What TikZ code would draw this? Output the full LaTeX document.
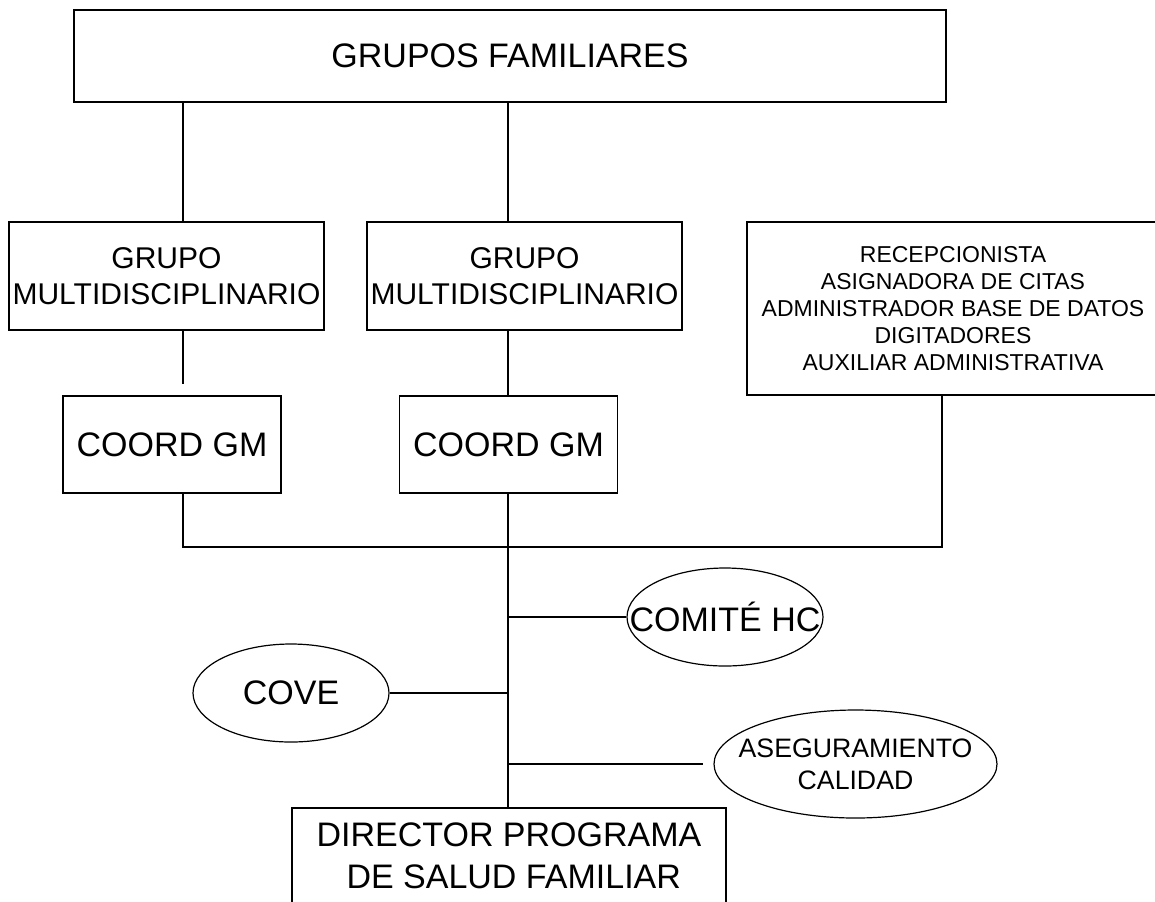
\documentclass[tikz,border=0pt]{standalone}
\usepackage{fontspec}
\setmainfont{Liberation Sans}
\usetikzlibrary{shapes.geometric,positioning,calc}

\newcommand{\fgrande}{\fontsize{25.5}{31.5}\selectfont}
\newcommand{\fmedio}{\fontsize{22.5}{27}\selectfont}
\newcommand{\fasegur}{\fontsize{20}{24}\selectfont}
\newcommand{\fpeque}{\fontsize{17.25}{20.25}\selectfont}

\begin{document}
\begin{tikzpicture}[x=0.75pt,y=-0.75pt,line width=0.9pt]
		\tikzstyle{caja}=[draw, rectangle, inner sep=0pt, align=center, font=\fgrande];
		\tikzstyle{elipse}=[draw, ellipse, inner sep=0pt];

		\clip (0,0) rectangle (1155,901);

		% cajas
		\node[caja, minimum width=654pt, minimum height=69pt] (gf) at (510,56) {GRUPOS FAMILIARES};
		\node[caja, font=\fmedio, minimum width=236.25pt, minimum height=81pt] (gm_1) at (166.5,276) {GRUPO\\MULTIDISCIPLINARIO};
		\node[caja, font=\fmedio, minimum width=236.25pt, minimum height=81pt] (gm_2) at (524.5,276) {GRUPO\\MULTIDISCIPLINARIO};
		\node[caja, minimum width=163.5pt, minimum height=72.75pt] (coord_1) at (172,444.5) {COORD GM};
		\node[caja, minimum width=163.5pt, minimum height=72.75pt] (coord_2) at (508.5,444.5) {COORD GM};
		\node[caja, font=\fpeque, minimum width=309pt, minimum height=129.75pt] (rec) at (953,308.5)
			{RECEPCIONISTA\\ASIGNADORA DE CITAS\\ADMINISTRADOR BASE DE DATOS\\DIGITADORES\\AUXILIAR ADMINISTRATIVA};
		\node[caja, minimum width=325.5pt, minimum height=72pt] (dir) at (509,856) {DIRECTOR PROGRAMA\\\mbox{} DE SALUD FAMILIAR};

		% elipses
		\node[elipse, minimum width=147pt, minimum height=73.5pt, label={[font=\fgrande]center:COMITÉ HC}] (comite) at (725,617) {};
		\node[elipse, minimum width=147pt, minimum height=73.5pt, label={[font=\fgrande]center:COVE}] (cove) at (291,693) {};
		\node[elipse, minimum width=212.25pt, minimum height=81pt, label={[font=\fasegur, align=center]center:{ASEGURAMIENTO\\CALIDAD}}] (aseg) at (855.5,764) {};

		% uniones
		\coordinate (u_izq) at (183,547);
		\coordinate (u_cen) at (508,547);
		\coordinate (u_der) at (942,547);
		\coordinate (gm_1_fin) at (183,384);

		\draw (gf.south -| u_izq) -- (gm_1.north -| u_izq);
		\draw (gf.south -| u_cen) -- (gm_2.north -| u_cen);
		\draw (gm_1.south -| u_izq) -- (gm_1_fin);
		\draw (gm_2.south -| u_cen) -- (coord_2.north -| u_cen);
		\draw (coord_1.south -| u_izq) -- (u_izq) -- (u_der) -- (rec.south -| u_der);
		\draw (coord_2.south -| u_cen) -- (dir.north -| u_cen);

		\draw (comite.west -| u_cen) -- (comite.west);
		\draw (cove.east) -- (cove.east -| u_cen);
		\draw (aseg.west -| u_cen) -- ([xshift=-7.5pt]aseg.west);
	\end{tikzpicture}
\end{document}
